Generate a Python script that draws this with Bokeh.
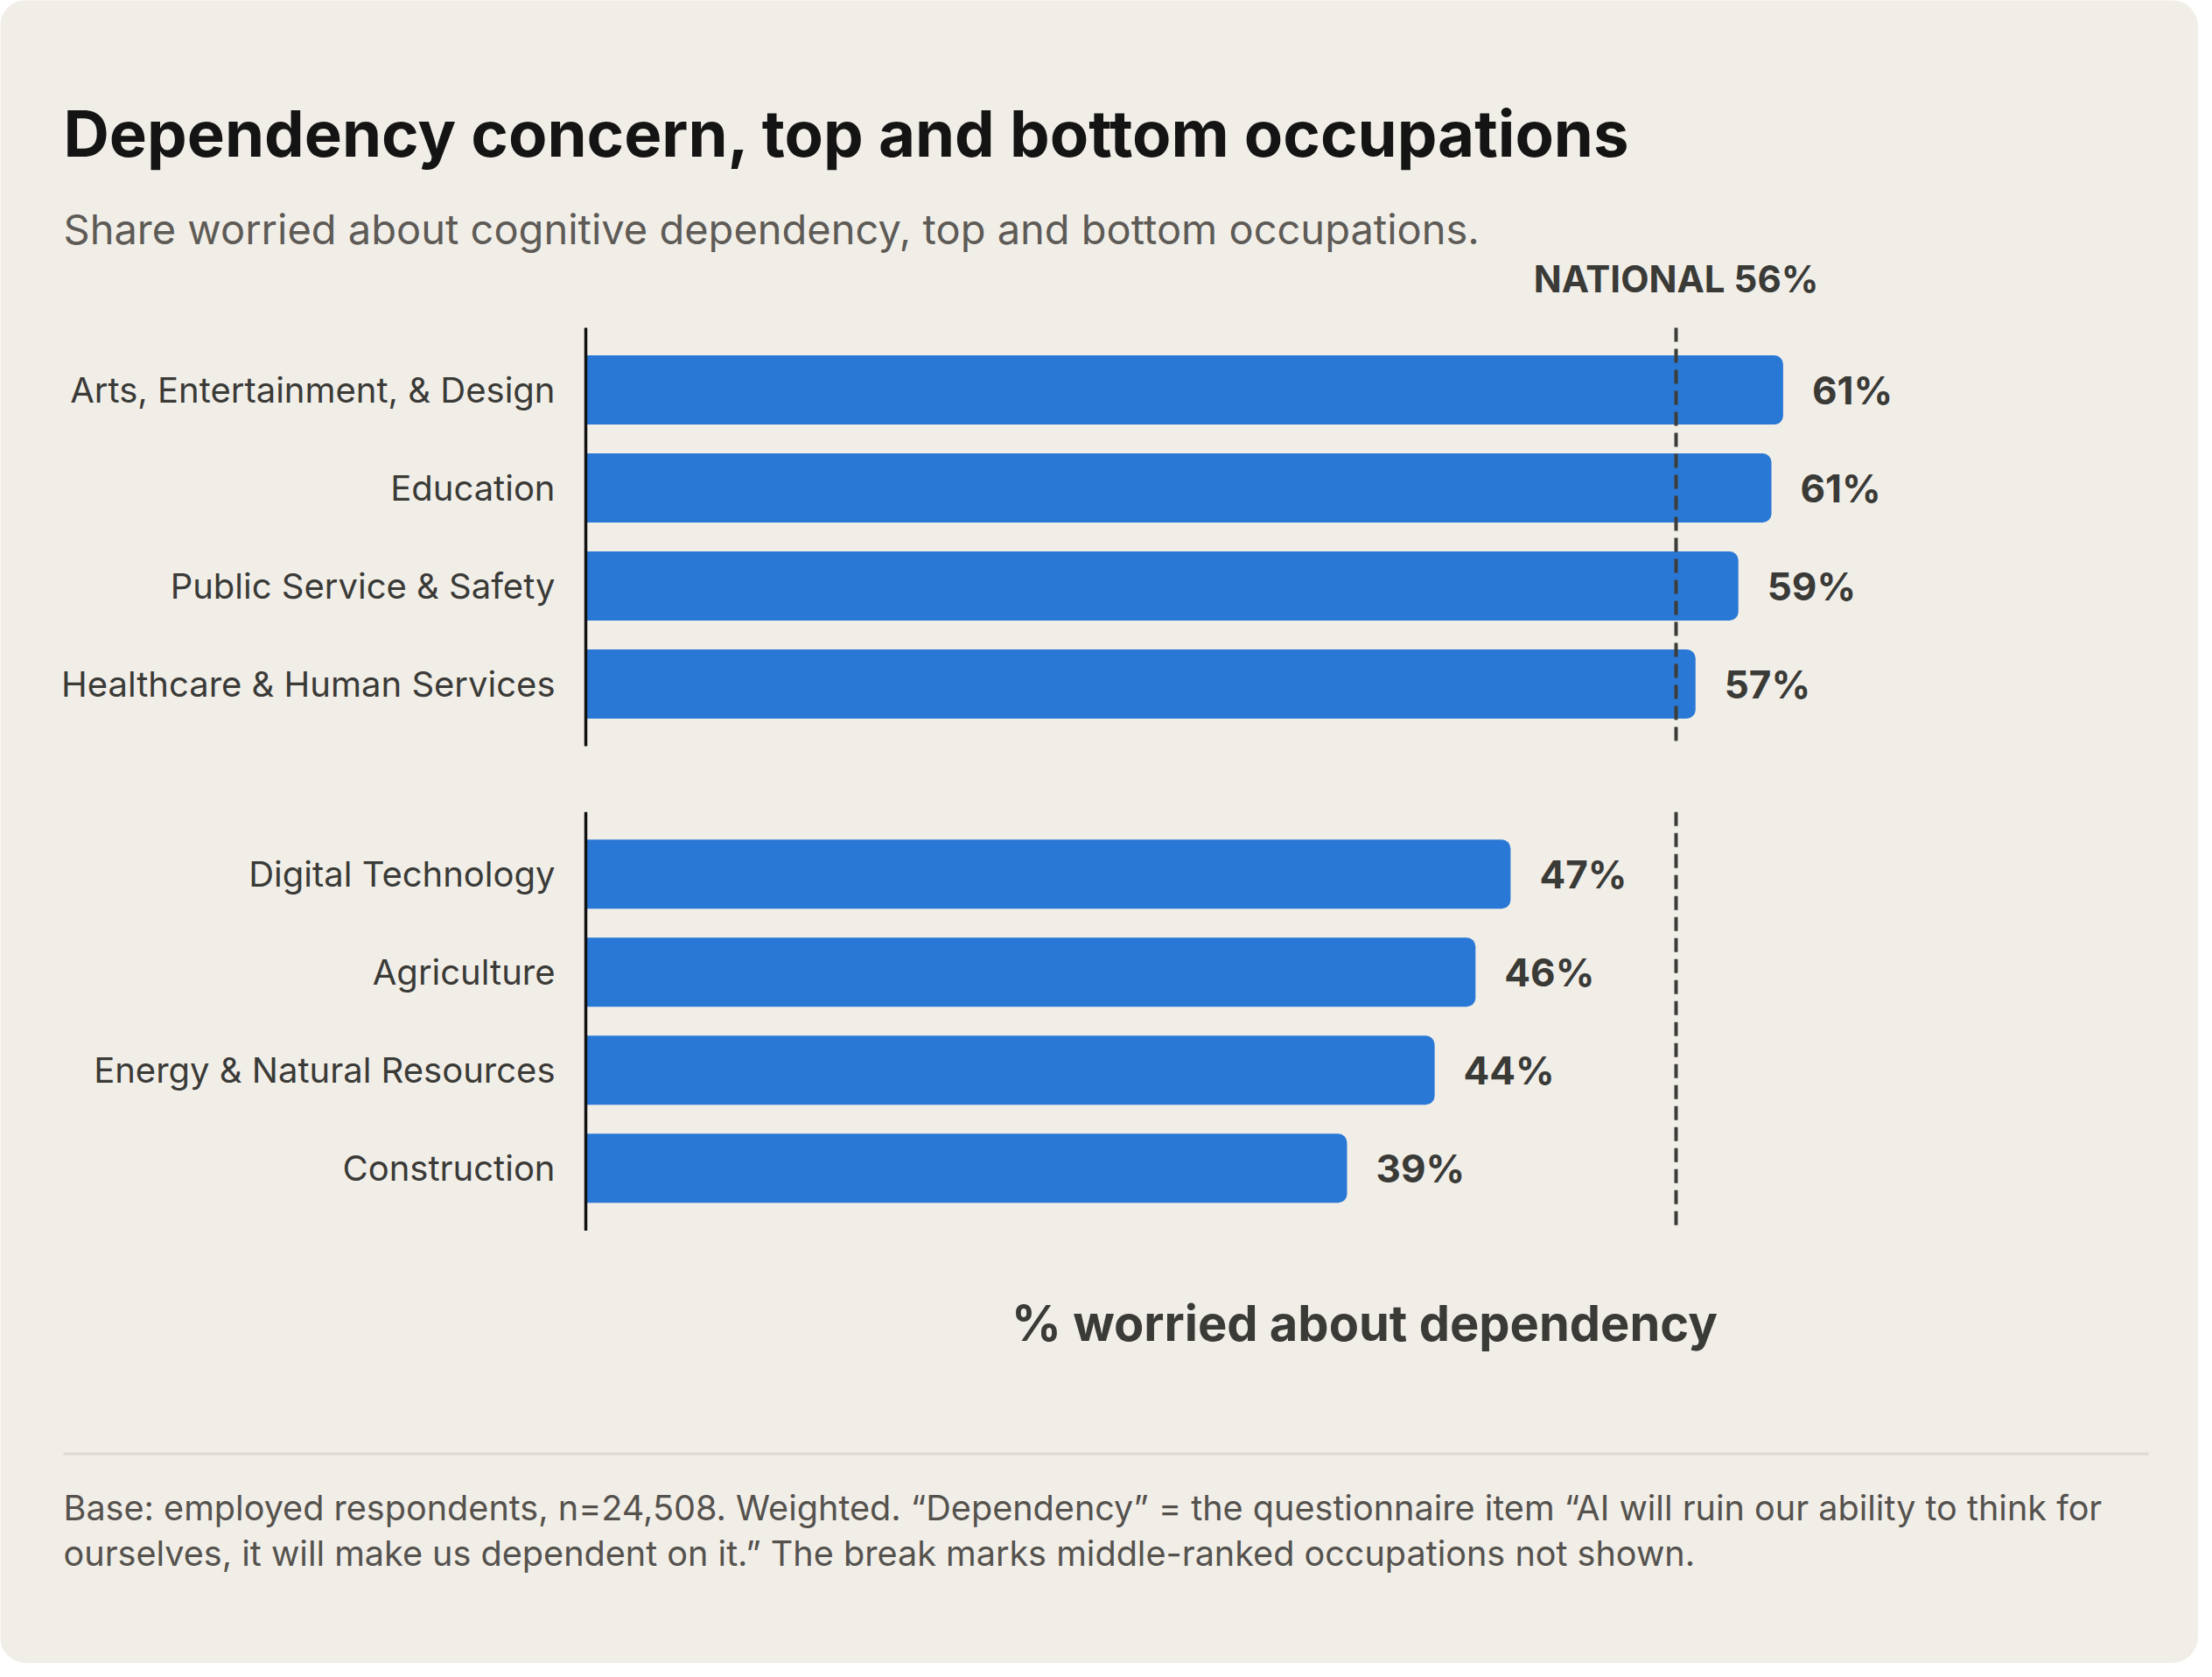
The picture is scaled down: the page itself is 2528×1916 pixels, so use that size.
from bokeh.plotting import figure
from bokeh.models import Range1d, Label, BoxAnnotation, ColumnDataSource
from bokeh.embed import file_html
from bokeh.resources import INLINE
from bokeh.core.properties import value

# ---------------- data ----------------
top_names = ["Arts, Entertainment, & Design", "Education",
             "Public Service & Safety", "Healthcare & Human Services"]
top_values = [61.5, 60.9, 59.2, 57.0]
top_labels = ["61%", "61%", "59%", "57%"]

bottom_names = ["Digital Technology", "Agriculture",
                "Energy & Natural Resources", "Construction"]
bottom_values = [47.5, 45.7, 43.6, 39.1]
bottom_labels = ["47%", "46%", "44%", "39%"]

national_value = 56
national_label = "NATIONAL 56%"

title_text = "Dependency concern, top and bottom occupations"
subtitle_text = "Share worried about cognitive dependency, top and bottom occupations."
x_title = "% worried about dependency"
foot_line1 = "Base: employed respondents, n=24,508. Weighted. \u201cDependency\u201d = the questionnaire item \u201cAI will ruin our ability to think for"
foot_line2 = "ourselves, it will make us dependent on it.\u201d The break marks middle-ranked occupations not shown."

# ---------------- style / layout ----------------
W, H = 2512, 1900
BG = "#F1EEE8"
BAR = "#2A78D6"
INK = "#3A3A37"
FONT = "Inter"

X0, XS = 669, 22.25      # pixel of 0 %, pixels per %
Y0, YS = 445, 112        # pixel of first row centre, pixels per row

GROUP_GAP = 1.94
top_pos = [float(i) for i in range(len(top_names))]
bottom_pos = [round(top_pos[-1] + GROUP_GAP + i, 4) for i in range(len(bottom_names))]
PAD = 0.635

p = figure(width=W, height=H, output_backend="svg", toolbar_location=None,
           x_range=Range1d(-X0 / XS, (W - X0) / XS),
           y_range=Range1d((H - Y0) / YS, -Y0 / YS),
           x_axis_location=None, y_axis_location=None, min_border=0)
p.background_fill_color = BG
p.border_fill_color = BG
p.outline_line_color = None
p.grid.visible = False
p.styles = {"border-radius": "30px", "overflow": "hidden"}

src = ColumnDataSource(dict(y=top_pos + bottom_pos, v=top_values + bottom_values,
                            lab=top_labels + bottom_labels, name=top_names + bottom_names))

# bars
p.hbar(y="y", left=0, right="v", height=0.705, source=src, color=BAR,
       line_color=None, border_radius=(0, 10, 10, 0))
# value labels
p.text(x="v", y="y", text="lab", source=src, x_offset=33, text_align="left",
       text_baseline="middle", text_font=value(FONT), text_font_style="bold",
       text_font_size="44px", text_color=INK)
# category labels
p.text(x=0, y="y", text="name", source=src, x_offset=-35, text_align="right",
       text_baseline="middle", text_font=value(FONT), text_font_size="40px",
       text_color=INK)

# broken axis line + national reference line
for ys in ([top_pos[0] - PAD, top_pos[-1] + PAD], [bottom_pos[0] - PAD, bottom_pos[-1] + PAD]):
    p.line(x=[0, 0], y=ys, line_color="#111111", line_width=3.5)
    p.line(x=[national_value, national_value], y=ys, line_color="#3C3C38",
           line_width=4, line_dash="16 8")

p.add_layout(Label(x=national_value, y=top_pos[0] - PAD, y_offset=56, text=national_label,
                   text_align="center", text_baseline="alphabetic",
                   text_font=FONT, text_font_style="bold", text_font_size="42px",
                   text_color=INK))

# x title, centred under the 0-80 % scale
p.add_layout(Label(x=40, y=bottom_pos[-1] + PAD, y_offset=-106, text=x_title,
                   text_align="center", text_baseline="alphabetic",
                   text_font=FONT, text_font_style="bold", text_font_size="56px",
                   text_color=INK))

# header (screen units, measured from the bottom edge)
p.add_layout(Label(x=72, y=H - 152, x_units="screen", y_units="screen", text=title_text,
                   text_font=FONT, text_font_style="bold", text_font_size="72.5px",
                   text_color="#141414", text_baseline="alphabetic"))
p.add_layout(Label(x=72, y=H - 261, x_units="screen", y_units="screen", text=subtitle_text,
                   text_font=FONT, text_font_size="47px", text_color="#5E5B57",
                   text_baseline="alphabetic"))

# footer
p.add_layout(BoxAnnotation(left=72, right=2455, bottom=H - 1662, top=H - 1659,
                           left_units="screen", right_units="screen",
                           top_units="screen", bottom_units="screen",
                           fill_color="#DCD9D2", fill_alpha=1, line_color=None))
p.add_layout(Label(x=72, y=H - 1722, x_units="screen", y_units="screen", text=foot_line1,
                   text_font=FONT, text_font_size="39.6px", text_color="#55524E",
                   text_baseline="alphabetic"))
p.add_layout(Label(x=72, y=H - 1774, x_units="screen", y_units="screen", text=foot_line2,
                   text_font=FONT, text_font_size="39.6px", text_color="#55524E",
                   text_baseline="alphabetic"))

open("out.html", "w").write(file_html(p, INLINE))
